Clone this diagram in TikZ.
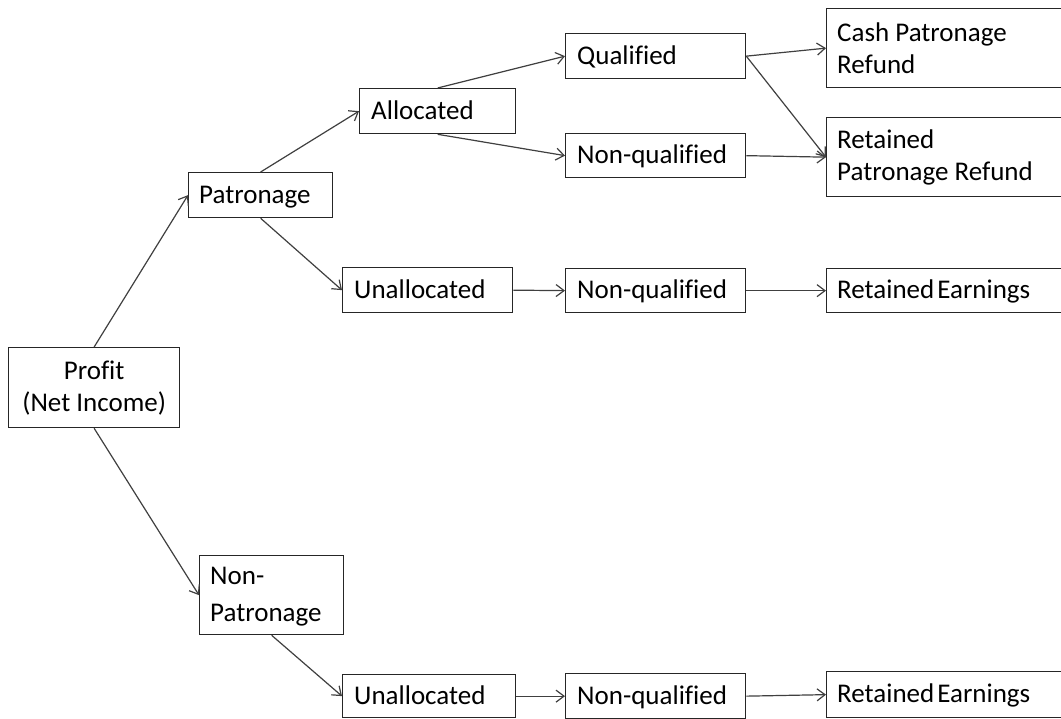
\documentclass[tikz,border=0pt]{standalone}
\usepackage{fontspec}
\setmainfont{Carlito}[Ligatures={NoCommon}]
\usetikzlibrary{arrows.meta}
\begin{document}
\begin{tikzpicture}[x=1pt,y=-1pt,
  box/.style={draw=black!85, line width=1.3pt, inner sep=0pt, anchor=north west},
  conn/.style={draw=black!75, line width=1.2pt, -{Straight Barb[length=8pt,width=12pt,line width=1.2pt]}},
  lbl/.style={font=\fontsize{27}{32}\selectfont, inner sep=0pt, align=left, anchor=west},
  one/.style={font=\fontsize{27}{32}\selectfont, inner sep=0pt, anchor=base west}]
\useasboundingbox (0,0) rectangle (1061,719);
\fill[white] (0,0) rectangle (1061,719);
% helper macro for box: left, top, right, bottom, name
\newcommand{\bx}[5]{%
  \node[box, minimum width=#3-#1, minimum height=#4-#2] (#5) at (#1,#2) {};}
\bx{8}{347}{179}{427}{profit}
\bx{188}{172}{332}{217}{pat}
\bx{199}{555}{343}{634}{nonpat}
\bx{359}{88}{515}{133}{alloc}
\bx{342}{267}{512}{312}{unalA}
\bx{342}{674}{515}{717}{unalB}
\bx{565}{33}{745}{78}{qual}
\bx{565}{133}{745}{177}{nqA}
\bx{565}{268}{745}{312}{nqB}
\bx{565}{673}{745}{718}{nqC}
\bx{826}{8}{1066}{87}{cash}
\bx{826}{117}{1066}{196}{retp}
\bx{826}{268}{1066}{312}{reA}
\bx{826}{671}{1066}{717}{reB}
% texts
\node[lbl, align=center, anchor=center] (tprofit) at (profit.center) {Profit\\(Net Income)};
\node[one] (tpat) at ([xshift=11pt,yshift=-8pt]pat.west) {Patronage};
\node[lbl, font=\fontsize{27}{37}\selectfont] (tnonpat) at ([xshift=11pt,yshift=-2pt]nonpat.west) {Non-\\Patronage};
\node[one] (talloc) at ([xshift=12pt,yshift=-8pt]alloc.west) {Allocated};
\node[one] (tunalA) at ([xshift=12pt,yshift=-8pt]unalA.west) {Unallocated};
\node[one] (tunalB) at ([xshift=12pt,yshift=-8pt]unalB.west) {Unallocated};
\node[one] (tqual) at ([xshift=12pt,yshift=-8pt]qual.west) {Qualified};
\node[one] (tnqA) at ([xshift=12pt,yshift=-8pt]nqA.west) {Non-qualified};
\node[one] (tnqB) at ([xshift=12pt,yshift=-8pt]nqB.west) {Non-qualified};
\node[one] (tnqC) at ([xshift=12pt,yshift=-8pt]nqC.west) {Non-qualified};
\node[lbl] (tcash) at ([xshift=11pt]cash.west) {Cash Patronage\\Refund};
\node[lbl] (tretp) at ([xshift=11pt]retp.west) {Retained\\Patronage Refund};
\node[one] (treA) at ([xshift=11pt,yshift=-8pt]reA.west) {Retained\hspace{3pt}Earnings};
\node[one] (treB) at ([xshift=11pt,yshift=-8pt]reB.west) {Retained\hspace{3pt}Earnings};
% connectors
\draw[conn] (profit.north) -- (pat.west);
\draw[conn] (profit.south) -- (nonpat.west);
\draw[conn] (pat.north) -- (alloc.west);
\draw[conn] (pat.south) -- (unalA.west);
\draw[conn] (alloc.north) -- (qual.west);
\draw[conn] (alloc.south) -- (nqA.west);
\draw[conn] (unalA.east) -- (nqB.west);
\draw[conn] (qual.east) -- (cash.west);
\draw[conn] (qual.east) -- (retp.west);
\draw[conn] (nqA.east) -- (retp.west);
\draw[conn] (nqB.east) -- (reA.west);
\draw[conn] (nonpat.south) -- (unalB.west);
\draw[conn] (unalB.east) -- (nqC.west);
\draw[conn] (nqC.east) -- (reB.west);
\end{tikzpicture}
\end{document}
